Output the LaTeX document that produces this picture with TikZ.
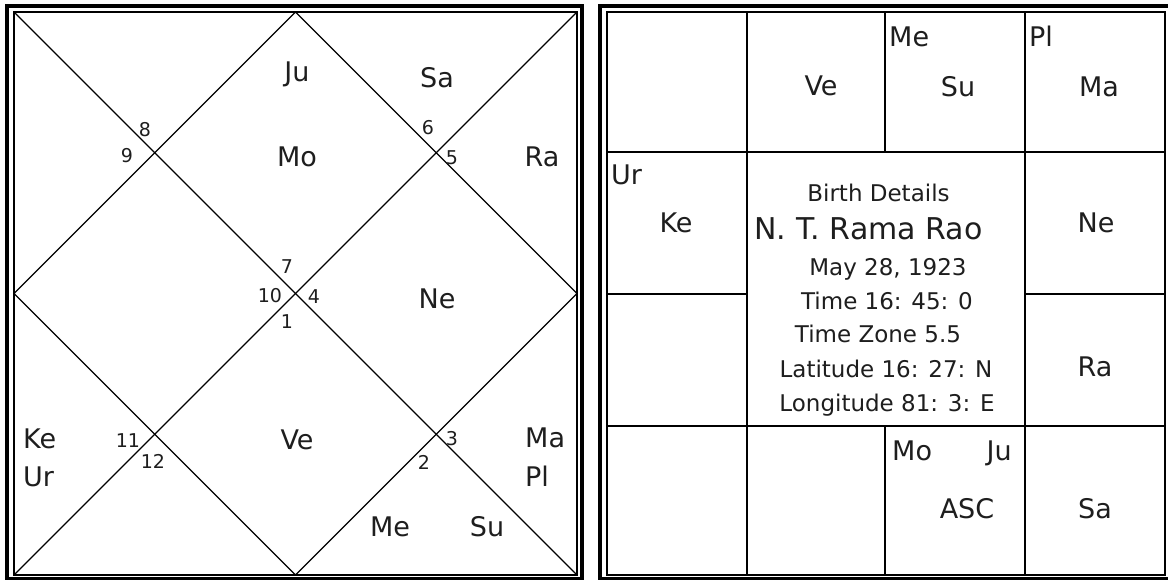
\documentclass[tikz,border=0pt]{standalone}
\usepackage{fontspec}
\setmainfont{DejaVu Sans}
\usepackage{tikz}
\usetikzlibrary{calc}
\usepackage{xcolor}
\definecolor{ink}{HTML}{1E1E1E}

\tikzset{
  planet/.style={inner sep=0pt,text height=19.7pt,text depth=0pt,text=ink,font=\fontsize{27}{32}\selectfont},
  hnum/.style={inner sep=0pt,text height=13.9pt,text depth=0pt,text=ink,font=\fontsize{19}{23}\selectfont},
  info/.style={inner sep=0pt,text height=16.8pt,text depth=0pt,text=ink,font=\fontsize{23}{28}\selectfont},
  frame/.style={line width=3.5pt},
  cell/.style={line width=1.3pt}
}

\begin{document}
\begin{tikzpicture}[x=1pt,y=-1pt]
\useasboundingbox[fill=white] (0,0) rectangle (1168,581);
\coordinate (tl) at (14,12);\coordinate (tr) at (577,12);
\coordinate (br) at (577,575);\coordinate (bl) at (14,575);
\draw[frame] (7,6) rectangle (582,578.5);
\draw[cell] (tl) rectangle (br);
\draw[cell] (tl)--(br);\draw[cell] (tr)--(bl);
\draw[cell] ($(tl)!0.5!(tr)$)--($(tr)!0.5!(br)$)--($(br)!0.5!(bl)$)--($(bl)!0.5!(tl)$)--cycle;
\node[planet] (ju1) at (297,72) {Ju};
\node[planet] (sa1) at (437,78) {Sa};
\node[planet] (mo1) at (297,157) {Mo};
\node[planet] (ra1) at (542,157) {Ra};
\node[planet] (ne1) at (437,299) {Ne};
\node[planet] (ve1) at (297,440) {Ve};
\node[planet,anchor=west] (ke1) at (23,439) {Ke};
\node[planet,anchor=west] (ur1) at (23,477) {Ur};
\node[planet,anchor=west] (ma1) at (525,438) {Ma};
\node[planet,anchor=west] (pl1) at (525,477) {Pl};
\node[planet] (me1) at (390,527) {Me};
\node[planet] (su1) at (487,527) {Su};
\node[hnum] (h8) at (145,130) {8};
\node[hnum] (h9) at (127,156) {9};
\node[hnum] (h6) at (428,128) {6};
\node[hnum] (h5) at (452,158) {5};
\node[hnum] (h7) at (287,267) {7};
\node[hnum] (h10) at (270,296) {10};
\node[hnum] (h4) at (314,297) {4};
\node[hnum] (h1) at (287,322) {1};
\node[hnum] (h11) at (128,441) {11};
\node[hnum] (h12) at (153,462) {12};
\node[hnum] (h3) at (452,439) {3};
\node[hnum] (h2) at (424,463) {2};
\draw[frame] (600,6) rectangle (1170,578.5);
\draw[cell] (607,12) rectangle (1165,575);
\draw[cell] (747,12)--(747,575);\draw[cell] (1025,12)--(1025,575);
\draw[cell] (885,12)--(885,152);\draw[cell] (885,426)--(885,575);
\draw[cell] (607,152)--(1165,152);\draw[cell] (607,426)--(1165,426);
\draw[cell] (607,294)--(747,294);\draw[cell] (1025,294)--(1165,294);
\node[planet] (ve2) at (821,86) {Ve};
\node[planet,anchor=west] (me2) at (889,37) {Me};
\node[planet] (su2) at (958,87) {Su};
\node[planet,anchor=west] (pl2) at (1029,37) {Pl};
\node[planet] (ma2) at (1099,87) {Ma};
\node[planet,anchor=west] (ur2) at (611,175) {Ur};
\node[planet] (ke2) at (676,223) {Ke};
\node[planet] (ne2) at (1096,223) {Ne};
\node[planet] (ra2) at (1095,367) {Ra};
\node[planet,anchor=west] (mo2) at (892,451) {Mo};
\node[planet,anchor=east] (ju2) at (1012,451) {Ju};
\node[planet] (asc) at (967,509) {ASC};
\node[planet] (sa2) at (1095,509) {Sa};
\node[info] (title) at (878.5,193) {Birth Details};
\node[info,text height=21.9pt,font=\fontsize{30}{36}\selectfont] (name) at (868.5,229) {N. T. Rama Rao};
\node[info] (date) at (888,267) {May 28, 1923};
\node[info] (time) at (887,301) {Time 16: 45: 0};
\node[info] (zone) at (878,334) {Time Zone 5.5};
\node[info] (lat) at (886,369) {Latitude 16: 27: N};
\node[info] (lon) at (887,403) {Longitude 81: 3: E};
\end{tikzpicture}
\end{document}
